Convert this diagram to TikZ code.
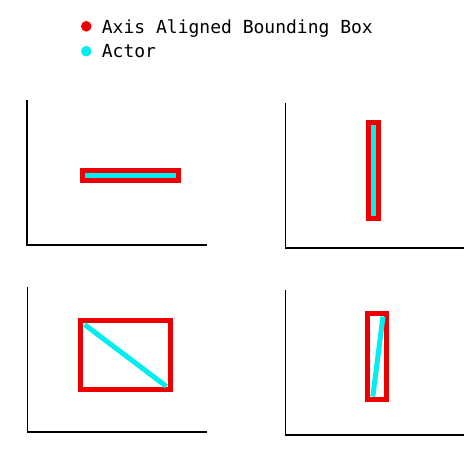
\documentclass[tikz,border=0pt]{standalone}
\usepackage{fontspec}
\setmonofont{DejaVu Sans Mono}
\definecolor{aabbred}{RGB}{238,0,0}
\definecolor{actorcyan}{RGB}{0,238,238}
\begin{document}
\begin{tikzpicture}[x=1pt,y=-1pt,
  axisline/.style={draw=black,line width=1.5pt},
  aabb/.style={draw=aabbred,line width=5pt},
  actor/.style={draw=actorcyan,line width=5pt},
  legendtext/.style={anchor=base west,inner sep=0pt,font=\ttfamily\fontsize{18pt}{22pt}\selectfont},
  legenddot/.style={circle,inner sep=0pt,minimum size=10.6pt}]
\useasboundingbox[fill=white] (0,0) rectangle (476,460);
% legend
\node[legenddot,fill=aabbred] (dotA) at (86.3,26.3) {};
\node[legendtext] (txtA) at (101.7,34) {Axis Aligned Bounding Box};
\node[legenddot,fill=actorcyan] (dotB) at (86.3,51.2) {};
\node[legendtext] (txtB) at (101.7,58) {Actor};
% panel 1
\draw[axisline] (27,100) -- (27,245) -- (207,245);
\draw[aabb] (82.5,170.5) rectangle (178.5,180.5);
\draw[actor] (85,175.5) -- (176,175.5);
% panel 2
\draw[axisline] (285.7,103) -- (285.7,248) -- (464,248);
\draw[aabb] (368.5,122.5) rectangle (378.2,218.5);
\draw[actor] (373.5,125) -- (373.5,215.7);
% panel 3
\draw[axisline] (27.3,287) -- (27.3,432) -- (207,432);
\draw[aabb] (80.8,320.8) rectangle (170.2,389.8);
\draw[actor] (84.5,324.5) -- (166.5,386.5);
% panel 4
\draw[axisline] (285.7,290) -- (285.7,435) -- (464,435);
\draw[aabb] (367.8,313.5) rectangle (386.8,399.2);
\draw[actor] (383,316.5) -- (372.8,396.5);
\end{tikzpicture}
\end{document}
